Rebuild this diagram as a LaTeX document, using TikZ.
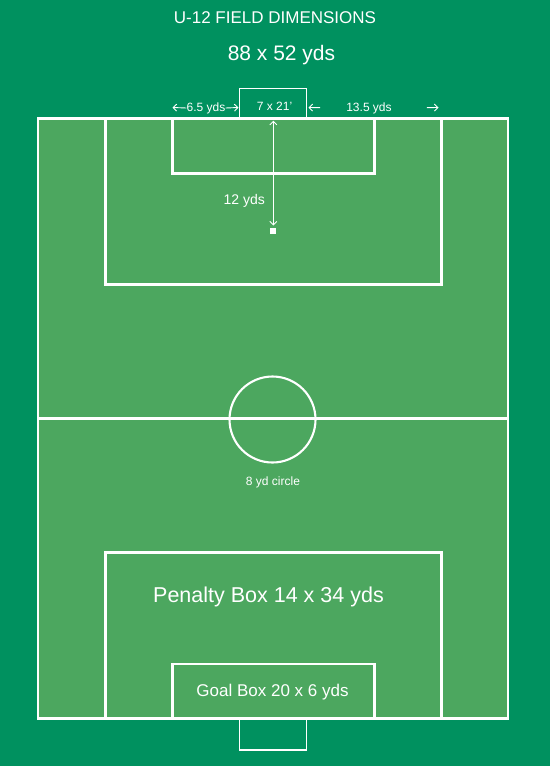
\documentclass[tikz,border=0pt]{standalone}
\usepackage{fontspec}
\setmainfont{Liberation Sans}
\usepackage{tikz}
\usetikzlibrary{arrows.meta}
\tikzset{>={Straight Barb[length=3.5pt,width=7pt]}}
\definecolor{surround}{RGB}{0,145,95}
\definecolor{grass}{RGB}{76,167,95}
\tikzstyle{fieldline}=[draw=white,line width=2.1pt]
\tikzstyle{goalline}=[draw=white,line width=1.5pt]
\tikzstyle{dimline}=[white,line width=0.9pt]
\tikzstyle{txt}=[text=white,inner sep=0pt]

\begin{document}
\begin{tikzpicture}[x=1pt,y=-1pt]
            \fill[surround] (0,0) rectangle (550,766);
            \useasboundingbox (0,0) rectangle (550,766);
            \def\fl{38}
            \def\fr{508}
            \def\ft{118.5}
            \def\fb{718.5}
            \def\hw{418.5}
            \coordinate (FTL) at (\fl,\ft);
            \coordinate (FBR) at (\fr,\fb);
            \coordinate (HL) at (\fl,\hw);
            \coordinate (HR) at (\fr,\hw);
            \coordinate (C) at (272.5,419.5);
            % pitch
            \draw[fieldline, fill=grass] (FTL) rectangle (FBR);
            \draw[fieldline] (HL)--(HR);
            \draw[fieldline] (C) circle[radius=43];
            % top end
            \draw[fieldline] (105.5,\ft) rectangle (441.5,284.5);
            \draw[fieldline] (172.5,\ft) rectangle (374.5,173.5);
            \draw[goalline] (239.5,88.5) rectangle (306.5,\ft);
            % bottom end
            \draw[fieldline] (105.5,552.5) rectangle (441.5,\fb);
            \draw[fieldline] (172.5,664) rectangle (374.5,\fb);
            \draw[goalline] (239.5,\fb) rectangle (306.5,750);
            % texts
            \node[txt, font=\fontsize{17}{20}\selectfont] (title) at (275,18) {U-12 FIELD DIMENSIONS};
            \node[txt, font=\fontsize{21}{24}\selectfont] (size) at (281.5,55) {88 x 52 yds};
            \node[txt, font=\fontsize{12}{14}\selectfont] (goal) at (274.5,106) {7 x 21’};
            \node[txt, font=\fontsize{12}{14}\selectfont] (circ) at (273,482.5) {8 yd circle};
            \node[txt, font=\fontsize{21.5}{24}\selectfont] (pbox) at (268.5,597) {Penalty Box 14 x 34 yds};
            \node[txt, font=\fontsize{17}{20}\selectfont] (gbox) at (272.5,692.5) {Goal Box 20 x 6 yds};
            % dimensions
            \node[fill=white, inner sep=0pt, minimum size=6pt] (spot) at (273.3,230.7) {};
            \coordinate (stop) at (273.3,120.7);
            \draw[dimline, <->, shorten >=2pt] (stop)--(spot.north)
                node[pos=0.75, left=8pt, txt, font=\fontsize{14}{16}\selectfont]{12 yds};
            \node[txt, font=\fontsize{12}{14}\selectfont] (lside) at (206,108) {6.5 yds};
            \coordinate (lsideL) at (172.5,107.5);
            \coordinate (lsideR) at (238.5,107.5);
            \draw[dimline, ->] (lside.west)--(lsideL);
            \draw[dimline, ->] (lside.east)--(lsideR);
            \node[txt, font=\fontsize{12}{14}\selectfont] (rside) at (369,108) {13.5 yds};
            \coordinate (rsideL) at (308.5,107.5);
            \coordinate (rsideR) at (438.5,107.5);
            \draw[dimline, ->, shorten <=26pt] (rside.west)--(rsideL);
            \draw[dimline, ->, shorten <=35pt] (rside.east)--(rsideR);
        \end{tikzpicture}
\end{document}
